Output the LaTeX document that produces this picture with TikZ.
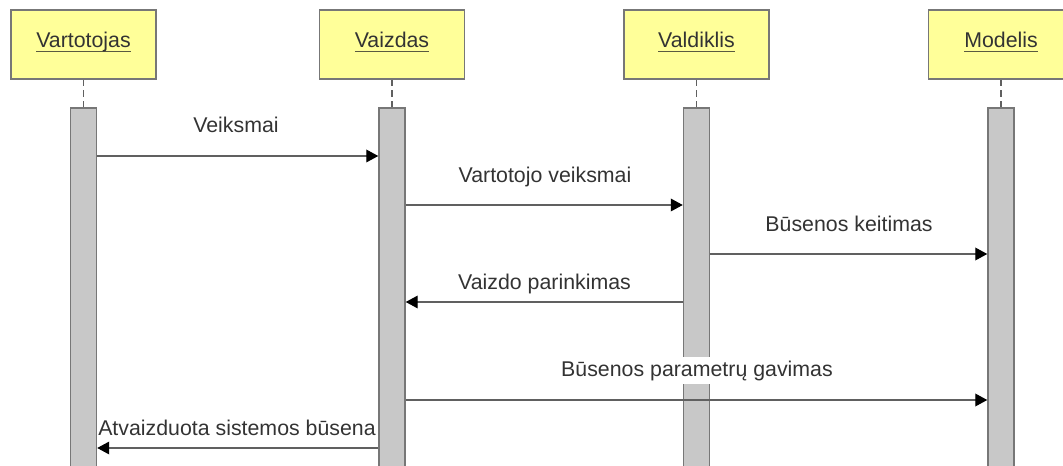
\documentclass[tikz,border=0pt]{standalone}
\usepackage{fontspec}
\setmainfont{Liberation Sans}
\usetikzlibrary{arrows.meta}
\definecolor{boxfill}{HTML}{FFFF99}
\definecolor{boxline}{HTML}{777777}
\definecolor{barfill}{HTML}{C8C8C8}
\definecolor{barline}{HTML}{777777}
\definecolor{lifecol}{HTML}{606060}
\definecolor{msgcol}{HTML}{606060}
\definecolor{txt}{HTML}{333333}
\definecolor{ulcol}{HTML}{5A5A40}
\newcommand\labfont{\fontsize{16}{19}\selectfont}
% underlined object name with a fixed rule depth
\newcommand\objname[1]{\setbox0\hbox{#1}\rlap{\textcolor{ulcol}{\rule[-3pt]{\wd0}{1pt}}}\box0}
\begin{document}
\begin{tikzpicture}[x=0.75pt,y=-0.75pt,
  obj/.style={draw=boxline, fill=boxfill, line width=1.2pt,
    minimum width=108.75pt, minimum height=51.75pt, inner sep=0pt,
    text=txt, font=\labfont, text height=8.5pt, text depth=3.25pt},
  bar/.style={draw=barline, fill=barfill, line width=1.1pt,
    minimum width=19.5pt, minimum height=273pt, inner sep=0pt},
  life/.style={draw=lifecol, line width=1pt, dash pattern=on 5pt off 3pt},
  msg/.style={draw=msgcol, line width=1pt,
    -{Triangle[length=9pt,width=9.5pt,color=black]}},
  lbl/.style={text=txt, font=\labfont, anchor=base, inner sep=0pt}]
\useasboundingbox (0,0) rectangle (1063,466);
\clip (0,0) rectangle (1063,466);

% objects
\node[obj] (o1) at (83.5,44.5) {\objname{Vartotojas}};
\node[obj] (o2) at (392,44.5) {\objname{Vaizdas}};
\node[obj] (o3) at (696.5,44.5) {\objname{Valdiklis}};
\node[obj] (o4) at (1001,44.5) {\objname{Modelis}};

% activation bars
\node[bar] (b1) at (83.5,290) {};
\node[bar] (b2) at (392,290) {};
\node[bar] (b3) at (696.5,290) {};
\node[bar] (b4) at (1001,290) {};

% lifelines
\draw[life] (o1.south) -- (b1.north);
\draw[life] (o2.south) -- (b2.north);
\draw[life] (o3.south) -- (b3.north);
\draw[life] (o4.south) -- (b4.north);

% message levels
\coordinate (m1) at (0,156);
\coordinate (m2) at (0,205);
\coordinate (m3) at (0,254);
\coordinate (m4) at (0,302);
\coordinate (m5) at (0,400);
\coordinate (m6) at (0,448);

% labels
\node[lbl] (t1) at (236,133) {Veiksmai};
\node[lbl] (t2) at (545,183) {Vartotojo veiksmai};
\node[lbl] (t3) at (849,232) {Būsenos keitimas};
\node[lbl] (t4) at (544.5,290) {Vaizdo parinkimas};
\node[lbl, fill=white, inner ysep=3pt, inner xsep=2pt] (t5) at (697,376) {Būsenos parametrų gavimas};
\node[lbl] (t6) at (237,435) {Atvaizduota sistemos būsena};

% messages
\draw[msg] (b1.east |- m1) -- (b2.west |- m1);
\draw[msg] (b2.east |- m2) -- (b3.west |- m2);
\draw[msg] (b3.east |- m3) -- (b4.west |- m3);
\draw[msg] (b3.west |- m4) -- (b2.east |- m4);
\draw[msg] (b2.east |- m5) -- (b4.west |- m5);
\draw[msg] (b2.west |- m6) -- (b1.east |- m6);
\end{tikzpicture}
\end{document}
